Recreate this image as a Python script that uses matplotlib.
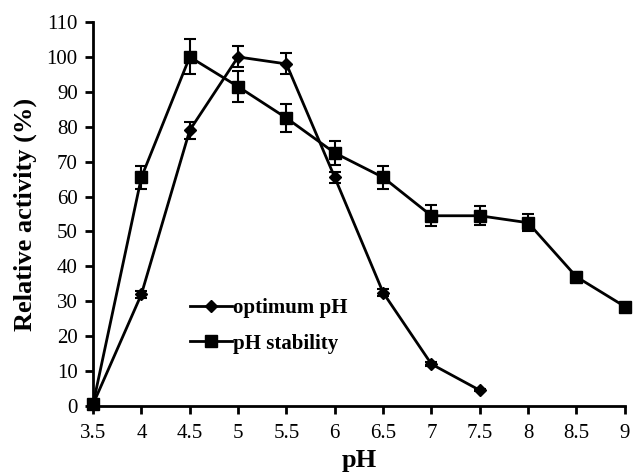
import matplotlib
matplotlib.use('Agg')
import matplotlib.pyplot as plt
from matplotlib.lines import Line2D

ph_opt = [3.5, 4, 4.5, 5, 5.5, 6, 6.5, 7, 7.5]
act_opt = [0.5, 32, 79, 100, 98, 65.5, 32.5, 12, 4.5]
err_opt = [0.3, 1, 2.5, 3, 3, 1.5, 1, 0.5, 0.3]

ph_stab = [3.5, 4, 4.5, 5, 5.5, 6, 6.5, 7, 7.5, 8, 8.5, 9]
act_stab = [0.5, 65.5, 100, 91.5, 82.5, 72.5, 65.5, 54.5, 54.5, 52.5, 37, 28.5]
err_stab = [0.3, 3.3, 5, 4.5, 4, 3.5, 3.2, 3, 2.7, 2.5, 1.5, 1]

x_ticks = [3.5, 4, 4.5, 5, 5.5, 6, 6.5, 7, 7.5, 8, 8.5, 9]
y_ticks = list(range(0, 111, 10))

plt.rcParams['font.family'] = ['Liberation Serif', 'DejaVu Serif']

fig = plt.figure(figsize=(6.33, 4.74), dpi=100)
ax = fig.add_axes([0.147, 0.1435, 0.840, 0.810])

ax.errorbar(ph_opt, act_opt, yerr=err_opt, color='black', lw=2, marker='D',
            markersize=6, capsize=4, elinewidth=1.5, capthick=1.5, clip_on=False)
ax.errorbar(ph_stab, act_stab, yerr=err_stab, color='black', lw=2, marker='s',
            markersize=9, capsize=4, elinewidth=1.5, capthick=1.5, clip_on=False)

ax.set_xlim(3.5, 9)
ax.set_ylim(0, 110)
ax.set_xticks(x_ticks)
ax.set_xticklabels([f'{t:g}' for t in x_ticks])
ax.set_yticks(y_ticks)
ax.tick_params(direction='out', length=6, width=2, labelsize=15)
ax.tick_params(axis='x', pad=7)
ax.tick_params(axis='y', pad=5)
for s in ['top', 'right']:
    ax.spines[s].set_visible(False)
for s in ['left', 'bottom']:
    ax.spines[s].set_linewidth(2)

ax.set_xlabel('pH', fontsize=19, fontweight='bold', labelpad=4)
ax.set_ylabel('Relative activity (%)', fontsize=19, fontweight='bold', labelpad=7)

handles = [Line2D([], [], color='black', lw=2, marker='D', markersize=6),
           Line2D([], [], color='black', lw=2, marker='s', markersize=9)]
ax.legend(handles, ['optimum pH', 'pH stability'], loc='upper left',
          bbox_to_anchor=(0.148, 0.33), frameon=False,
          prop={'weight': 'bold', 'size': 15}, handlelength=2.0,
          handletextpad=0.05, labelspacing=0.75)

plt.savefig('out.png', dpi=100)
